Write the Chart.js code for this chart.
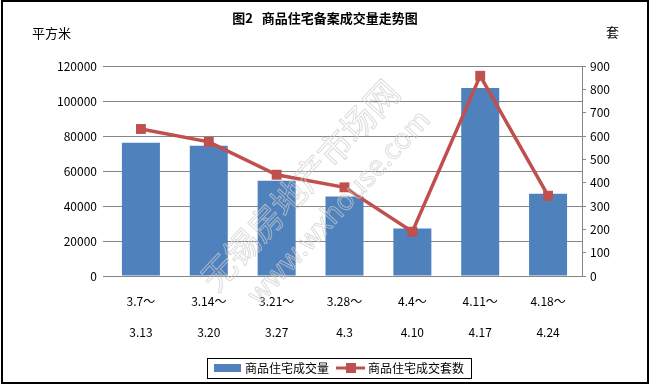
<!DOCTYPE html>
<html>
<head>
<meta charset="utf-8">
<script src="https://cdn.jsdelivr.net/npm/chart.js@4"></script>
<style>
  body { margin: 0; background: #fff; }
  #wrap { width: 651px; height: 388px; position: relative; }
</style>
</head>
<body>
<div id="wrap"><canvas id="chart" width="651" height="388"></canvas></div>
<script>
// data
const weekStart = ["3.7～", "3.14～", "3.21～", "3.28～", "4.4～", "4.11～", "4.18～"];
const weekEnd = ["3.13", "3.20", "3.27", "4.3", "4.10", "4.17", "4.24"];
const areaSold = [76100, 74400, 54400, 45500, 27100, 107500, 47000];
const unitsSold = [630, 575, 434, 380, 190, 858, 344];
const seriesNames = ["商品住宅成交量", "商品住宅成交套数"];
const titleText = "图2   商品住宅备案成交量走势图";
const leftUnit = "平方米";
const rightUnit = "套";

const barColor = "#4F81BD";
const lineColor = "#C0504D";
const gridColor = "#868686";
const fontFamily = '"Noto Sans CJK SC", "DejaVu Sans", sans-serif';

const labels = weekStart.map((s, i) => [s, weekEnd[i]]);

// title, unit captions, legend box, outer frame
const decorations = {
  id: "decorations",
  beforeDraw(chart) {
    const ctx = chart.ctx;
    ctx.save();
    ctx.fillStyle = "#fff";
    ctx.fillRect(0, 0, chart.width, chart.height);
    ctx.restore();
  },
  afterDatasetsDraw(chart) {
    // faint watermark
    const ctx = chart.ctx;
    ctx.save();
    ctx.translate(320, 190);
    ctx.rotate(-0.82);
    ctx.strokeStyle = "rgba(205,205,205,0.7)";
    ctx.lineWidth = 1;
    ctx.font = "34px " + fontFamily;
    ctx.textAlign = "center";
    ctx.textBaseline = "middle";
    ctx.strokeText("无锡房地产市场网", -10, -18);
    ctx.font = "28px " + fontFamily;
    ctx.strokeText("www.wxhouse.com", 0, 24);
    ctx.restore();
  },
  afterDraw(chart) {
    const ctx = chart.ctx;
    ctx.save();
    ctx.fillStyle = "#000";
    ctx.textBaseline = "middle";

    ctx.font = "bold 13px " + fontFamily;
    ctx.textAlign = "center";
    ctx.fillText(titleText, 325, 18);

    ctx.font = "13px " + fontFamily;
    ctx.textAlign = "left";
    ctx.fillText(leftUnit, 32, 33);
    ctx.fillText(rightUnit, 606, 32);

    // legend
    ctx.strokeStyle = "#000";
    ctx.lineWidth = 1;
    ctx.strokeRect(207.5, 358.5, 264, 20);
    ctx.fillStyle = barColor;
    ctx.fillRect(214, 364, 27, 8);
    ctx.strokeStyle = lineColor;
    ctx.lineWidth = 3;
    ctx.beginPath();
    ctx.moveTo(336, 368);
    ctx.lineTo(365, 368);
    ctx.stroke();
    ctx.fillStyle = lineColor;
    ctx.fillRect(346, 363, 10, 10);
    ctx.fillStyle = "#000";
    ctx.font = "12px " + fontFamily;
    ctx.fillText(seriesNames[0], 245, 368);
    ctx.fillText(seriesNames[1], 368, 368);

    // frame
    ctx.strokeStyle = "#000";
    ctx.lineWidth = 2;
    ctx.strokeRect(2, 1, 646, 382);
    ctx.restore();
  },
};

new Chart(document.getElementById("chart"), {
  data: {
    labels: labels,
    datasets: [
      {
        type: "line",
        label: seriesNames[1],
        data: unitsSold,
        yAxisID: "y1",
        borderColor: lineColor,
        backgroundColor: lineColor,
        borderWidth: 3.5,
        pointStyle: "rect",
        pointRadius: 7,
        pointBorderWidth: 0,
        tension: 0,
        order: 0,
      },
      {
        type: "bar",
        label: seriesNames[0],
        data: areaSold,
        yAxisID: "y",
        backgroundColor: barColor,
        barPercentage: 0.56,
        categoryPercentage: 1.0,
        order: 1,
      },
    ],
  },
  options: {
    responsive: false,
    animation: false,
    layout: { padding: { top: 66, bottom: 48, left: 0, right: 0 } },
    plugins: {
      legend: { display: false },
      title: { display: false },
      tooltip: { enabled: false },
    },
    scales: {
      x: {
        grid: { display: false },
        border: { display: false },
        ticks: {
          color: "#000",
          padding: 2,
          maxRotation: 0,
          autoSkip: false,
          font: { family: fontFamily, size: 12, lineHeight: "31px" },
        },
        afterFit: (s) => { s.height = 64; },
      },
      y: {
        position: "left",
        min: 0,
        max: 120000,
        ticks: {
          stepSize: 20000,
          color: "#000",
          padding: 6,
          font: { family: fontFamily, size: 12 },
          callback: (v) => String(v),
        },
        grid: { color: gridColor, lineWidth: 1, tickLength: 4 },
        border: { display: false },
        afterFit: (s) => { s.width = 107; },
      },
      y1: {
        position: "right",
        min: 0,
        max: 900,
        ticks: {
          stepSize: 100,
          color: "#000",
          padding: 4,
          font: { family: fontFamily, size: 12 },
          callback: (v) => String(v),
        },
        grid: { drawOnChartArea: false, color: gridColor, tickLength: 4 },
        border: { display: true, color: gridColor },
        afterFit: (s) => { s.width = 69; },
      },
    },
  },
  plugins: [decorations],
});
</script>
</body>
</html>
